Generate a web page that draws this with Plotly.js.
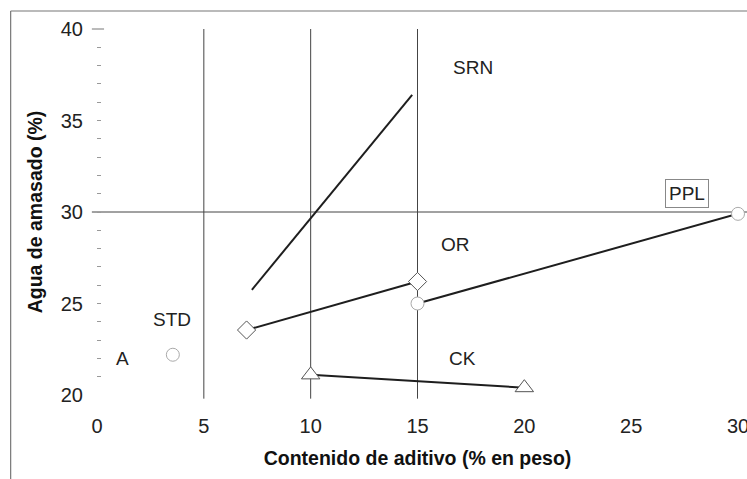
<!DOCTYPE html>
<html>
<head>
<meta charset="utf-8">
<script src="https://cdn.plot.ly/plotly-3.0.1.min.js"></script>
<style>
html,body{margin:0;padding:0;background:#fff;}
#chart{width:747px;height:479px;}
</style>
</head>
<body>
<div id="chart"></div>
<script>
// Series data
const srnX = [7.25, 14.75];
const srnY = [25.75, 36.4];
const orX = [7, 15];
const orY = [23.55, 26.2];
const pplX = [15, 30];
const pplY = [25.0, 29.9];
const ckX = [10, 20];
const ckY = [21.1, 20.4];
const stdX = [3.55];
const stdY = [22.2];

// Series labels and where they sit (data coordinates)
const labelText = ['SRN', 'PPL', 'OR', 'STD', 'A', 'CK'];
const labelX = [17.6, 27.6, 16.8, 3.5, 1.2, 17.1];
const labelY = [37.9, 31.0, 28.2, 24.1, 22.0, 22.0];

// Axis ticks
const xTicks = [0, 5, 10, 15, 20, 25, 30];
const yTicks = [20, 25, 30, 35, 40];
const xGridAt = [5, 10, 15];

const lineStyle = {color: '#1e1e1e', width: 2};
const FONT = 'Liberation Sans, Arial, Helvetica, sans-serif';

const traces = [
  {x: srnX, y: srnY, mode: 'lines', line: lineStyle, name: 'SRN', cliponaxis: false},
  {x: orX, y: orY, mode: 'lines+markers', line: lineStyle, name: 'OR', cliponaxis: false,
   marker: {symbol: 'diamond', size: 14, color: '#fff', line: {color: '#555', width: 1}}},
  {x: pplX, y: pplY, mode: 'lines+markers', line: lineStyle, name: 'PPL', cliponaxis: false,
   marker: {symbol: 'circle', size: 13, color: '#fff', line: {color: '#aaa', width: 1}}},
  {x: ckX, y: ckY, mode: 'lines+markers', line: lineStyle, name: 'CK', cliponaxis: false,
   marker: {symbol: 'triangle-up', size: 16, color: '#fff', line: {color: '#555', width: 1}}},
  {x: stdX, y: stdY, mode: 'markers', name: 'STD', cliponaxis: false,
   marker: {symbol: 'circle', size: 13, color: '#fff', line: {color: '#aaa', width: 1}}}
];

const annotations = labelText.map((t, i) => ({
  x: labelX[i], y: labelY[i], xref: 'x', yref: 'y', text: t, showarrow: false,
  font: {family: FONT, size: 19, color: '#222'},
  bordercolor: t === 'PPL' ? '#888' : 'rgba(0,0,0,0)', borderwidth: 1, borderpad: 3
}));

const shapes = [];
xGridAt.forEach(v => shapes.push({type: 'line', xref: 'x', yref: 'paper', x0: v, x1: v, y0: -0.01, y1: 1,
  line: {color: '#444', width: 1}, layer: 'below'}));
// horizontal gridline at y = 30
shapes.push({type: 'line', xref: 'paper', yref: 'paper', x0: -0.008, x1: 1.03, y0: 0.5, y1: 0.5,
  line: {color: '#444', width: 1}, layer: 'below'});
// long tick at top (40)
shapes.push({type: 'line', xref: 'paper', yref: 'paper', x0: -0.008, x1: 0.011, y0: 1, y1: 1,
  line: {color: '#777', width: 1}});
// outer frame (clipped by page edge)
shapes.push({type: 'line', xref: 'paper', yref: 'paper', x0: -0.1347, x1: 1.03, y0: 1.0492, y1: 1.0492,
  line: {color: '#777', width: 1.2}});
shapes.push({type: 'line', xref: 'paper', yref: 'paper', x0: -0.1347, x1: -0.1347, y0: 1.0492, y1: -0.25,
  line: {color: '#777', width: 1.2}});

const layout = {
  width: 747, height: 479,
  margin: {l: 97, r: 9, t: 29, b: 84},
  paper_bgcolor: '#fff', plot_bgcolor: '#fff',
  showlegend: false,
  font: {family: FONT, color: '#222'},
  xaxis: {
    range: [0, 30], tickvals: xTicks, ticktext: xTicks.map(String),
    showgrid: false, zeroline: false, showline: false, ticks: '',
    ticklabelstandoff: 17, ticklabeloverflow: 'allow',
    tickfont: {family: FONT, size: 20, color: '#222'},
    title: {text: '<b>Contenido de aditivo (% en peso)</b>', font: {family: FONT, size: 19.5, color: '#111'}, standoff: 15},
    automargin: false
  },
  yaxis: {
    range: [20, 40], tickvals: yTicks, ticktext: yTicks.map(String),
    showgrid: false, zeroline: false, showline: false,
    ticks: 'inside', ticklen: 4, tickcolor: '#999',
    minor: {dtick: 1, ticks: 'inside', ticklen: 4, tickcolor: '#999'},
    ticklabelstandoff: 13, ticklabeloverflow: 'allow',
    tickfont: {family: FONT, size: 20, color: '#222'},
    title: {text: '<b>Agua de amasado (%)</b>', font: {family: FONT, size: 19.5, color: '#111'}, standoff: 12},
    automargin: false
  },
  annotations: annotations,
  shapes: shapes
};

Plotly.newPlot('chart', traces, layout, {displayModeBar: false, staticPlot: true});
</script>
</body>
</html>
